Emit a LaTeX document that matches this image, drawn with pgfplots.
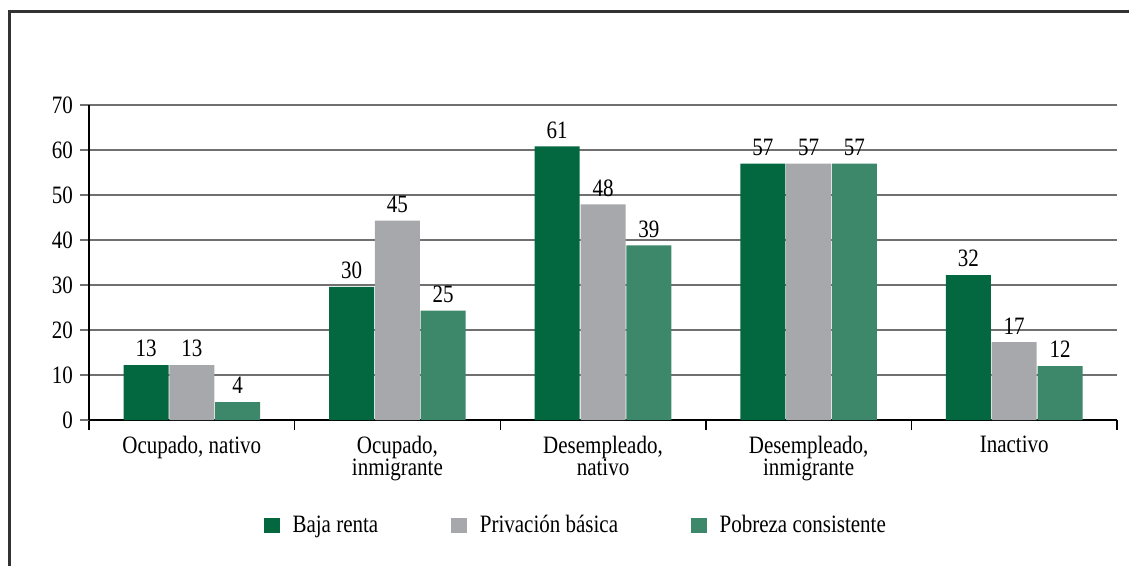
\documentclass[border=0pt]{standalone}
\usepackage{pgfplots}
\pgfplotsset{compat=1.18}
\usepackage{fontspec}
\setmainfont[FakeStretch=0.84]{Liberation Serif}
\newcommand{\chartfont}{\fontsize{12.5}{11}\selectfont}

\definecolor{bajarenta}{HTML}{03683F}
\definecolor{privacion}{HTML}{A7A8AB}
\definecolor{pobreza}{HTML}{3D876A}
\definecolor{gridgray}{HTML}{707070}

\begin{document}
\begin{tikzpicture}
\useasboundingbox (0,0) rectangle (564.5pt,-283pt);
% outer frame (left and top edges)
\draw[line width=1.5pt, color=black!80] (4.8pt,-290pt) -- (4.8pt,-6pt) -- (570pt,-6pt);
\begin{axis}[
    at={(44.5pt,-210pt)}, anchor=south west,
    scale only axis,
    width=514pt, height=157.5pt,
    ybar=0.4pt, bar width=22.5pt,
    xmin=-0.5, xmax=4.5,
    ymin=0, ymax=70,
    ytick distance=10,
    xtick={0,...,4},
    xticklabels={{Ocupado, nativo},{Ocupado,\\inmigrante},{Desempleado,\\nativo},{Desempleado,\\inmigrante},{Inactivo}},
    minor xtick={-0.5,0.5,...,4.5},
    axis lines*=left,
    axis line style={black, line width=0.8pt},
    tick align=outside,
    major tick length=4.5pt,
    minor tick length=5pt,
    major x tick style={draw=none},
    minor x tick style={black, line width=0.7pt},
    ytick style={gridgray, line width=0.8pt},
    ymajorgrids,
    grid style={gridgray, line width=0.8pt},
    /pgf/number format/assume math mode=true,
    tick label style={font=\chartfont},
    xticklabel style={align=center, yshift=0pt},
    nodes near coords,
    point meta=explicit symbolic,
    every node near coord/.append style={font=\chartfont, black, yshift=0.5pt},
    legend style={at={(0.479,-0.335)}, anchor=center, draw=none, fill=none,
        legend columns=3, font=\chartfont,
        /tikz/every even column/.append style={column sep=30pt},
        nodes={inner xsep=6.5pt}},
    legend image code/.code={\fill[#1] (0pt,-3.8pt) rectangle (7.8pt,3.8pt);},
]
\addplot[fill=bajarenta, draw=none] coordinates {
    (0,12.2) [13]
    (1,29.6) [30]
    (2,60.8) [61]
    (3,57.0) [57]
    (4,32.2) [32]
};
\addplot[fill=privacion, draw=none] coordinates {
    (0,12.2) [13]
    (1,44.3) [45]
    (2,47.9) [48]
    (3,57.0) [57]
    (4,17.3) [17]
};
\addplot[fill=pobreza, draw=none] coordinates {
    (0,4.0) [4]
    (1,24.3) [25]
    (2,38.8) [39]
    (3,57.0) [57]
    (4,12.0) [12]
};
\legend{Baja renta, Privación básica, Pobreza consistente}
\end{axis}
\end{tikzpicture}
\end{document}
